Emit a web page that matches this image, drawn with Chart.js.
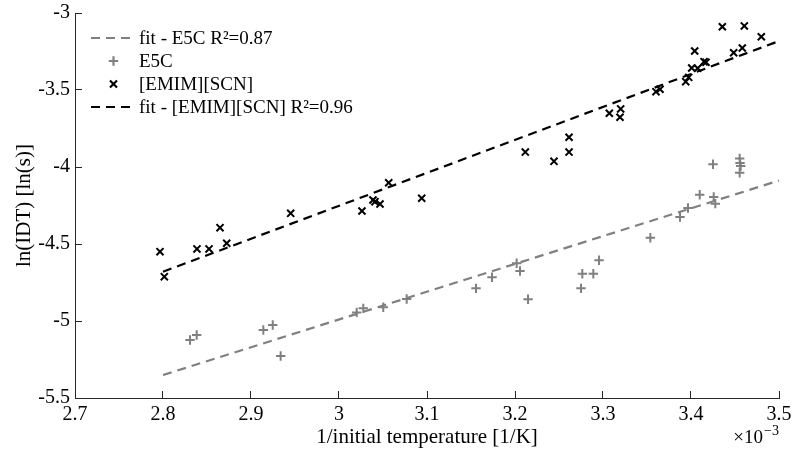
<!DOCTYPE html>
<html>
<head>
<meta charset="utf-8">
<script src="https://cdn.jsdelivr.net/npm/chart.js@4"></script>
<style>
  html, body { margin: 0; padding: 0; background: #fff; }
  #wrap { width: 792px; height: 455px; }
</style>
</head>
<body>
<div id="wrap"><canvas id="chart" width="792" height="455"></canvas></div>
<script>
// x values are 1/T in units of 1e-3 1/K
const e5cX = [2.8307, 2.8383, 2.914, 2.9247, 2.9337, 3.0201, 3.0276, 3.0503, 3.0769, 3.1557,
  3.1739, 3.2019, 3.2057, 3.2148, 3.275, 3.2765, 3.289, 3.2955, 3.3538, 3.3875,
  3.3966, 3.4099, 3.425, 3.4258, 3.4276, 3.4553, 3.4565, 3.4553, 3.4557];
const e5cY = [-5.123, -5.091, -5.058, -5.026, -5.227, -4.944, -4.918, -4.911, -4.857, -4.788,
  -4.716, -4.625, -4.675, -4.859, -4.788, -4.693, -4.693, -4.606, -4.459, -4.325,
  -4.266, -4.18, -3.982, -4.195, -4.238, -3.944, -3.994, -4.037, -3.974];

const emimX = [2.7966, 2.8015, 2.8386, 2.8523, 2.8648, 2.8724, 2.9451, 3.0261, 3.0386, 3.0409,
  3.0466, 3.0565, 3.094, 3.2117, 3.2443, 3.2614, 3.2614, 3.3072, 3.3201, 3.3193,
  3.3602, 3.3648, 3.394, 3.3974, 3.4042, 3.4008, 3.4076, 3.4148, 3.417, 3.4356,
  3.4485, 3.4583, 3.4606, 3.4799];
const emimY = [-4.55, -4.712, -4.532, -4.532, -4.394, -4.495, -4.301, -4.286, -4.214, -4.225,
  -4.24, -4.102, -4.203, -3.903, -3.963, -3.807, -3.903, -3.651, -3.623, -3.677,
  -3.511, -3.495, -3.446, -3.418, -3.247, -3.357, -3.359, -3.316, -3.32, -3.089,
  -3.258, -3.227, -3.084, -3.154];

const fitX = [2.8, 3.5];
const fitE5cY = [-5.351, -4.088];
const fitEmimY = [-4.68, -3.182];

const xTicks = [2.7, 2.8, 2.9, 3.0, 3.1, 3.2, 3.3, 3.4, 3.5];
const yTicks = [-5.5, -5, -4.5, -4, -3.5, -3];

const labels = ['fit - E5C R\u00b2=0.87', 'E5C', '[EMIM][SCN]', 'fit - [EMIM][SCN] R\u00b2=0.96'];

const GRAY = '#808080';
const AXIS = '#262626';
const SERIF = '"Liberation Serif", "Times New Roman", serif';

function pts(xs, ys) {
  return xs.map((x, i) => ({ x: x, y: ys[i] }));
}

// legend drawn inside the plot, top left, no box
const legendPlugin = {
  id: 'innerLegend',
  afterDatasetsDraw(chart) {
    const ctx = chart.ctx;
    const area = chart.chartArea;
    const x0 = area.left + 16;
    const lineW = 45;
    ctx.save();
    ctx.font = '19px ' + SERIF;
    ctx.textBaseline = 'middle';
    chart.data.datasets.forEach((ds, i) => {
      const y = area.top + 25 + i * 23;
      ctx.strokeStyle = ds.borderColor;
      if (ds.showLine) {
        ctx.lineWidth = ds.borderWidth;
        ctx.setLineDash(ds.borderDash);
        ctx.beginPath();
        ctx.moveTo(x0, y);
        ctx.lineTo(x0 + lineW, y);
        ctx.stroke();
        ctx.setLineDash([]);
      } else {
        Chart.helpers.drawPoint(ctx, {
          pointStyle: ds.pointStyle,
          radius: ds.pointRadius,
          borderWidth: ds.borderWidth
        }, x0 + lineW / 2, y);
      }
      ctx.fillStyle = '#000';
      ctx.fillText(ds.label, x0 + lineW + 3, y + 1);
    });
    ctx.restore();
  }
};

const titlesPlugin = {
  id: 'axisTitles',
  afterDraw(chart) {
    const ctx = chart.ctx;
    const area = chart.chartArea;
    ctx.save();
    ctx.fillStyle = '#000';
    ctx.font = '21px ' + SERIF;
    ctx.textAlign = 'center';
    ctx.textBaseline = 'middle';
    ctx.fillText('1/initial temperature [1/K]', (area.left + area.right) / 2, area.bottom + 39);
    ctx.save();
    ctx.translate(24, (area.top + area.bottom) / 2);
    ctx.rotate(-Math.PI / 2);
    ctx.fillText('ln(IDT) [ln(s)]', 0, 0);
    ctx.restore();
    ctx.textAlign = 'right';
    ctx.font = '19px ' + SERIF;
    ctx.fillText('\u00d710', area.right - 16, area.bottom + 40);
    ctx.font = '14px ' + SERIF;
    ctx.fillText('\u22123', area.right, area.bottom + 33);
    ctx.restore();
  }
};

new Chart(document.getElementById('chart'), {
  type: 'scatter',
  data: {
    datasets: [
      {
        label: labels[0],
        data: pts(fitX, fitE5cY),
        showLine: true,
        borderColor: GRAY,
        borderWidth: 2.2,
        borderDash: [9, 6],
        pointRadius: 0
      },
      {
        label: labels[1],
        data: pts(e5cX, e5cY),
        pointStyle: 'cross',
        pointRadius: 4.7,
        borderColor: GRAY,
        borderWidth: 2
      },
      {
        label: labels[2],
        data: pts(emimX, emimY),
        pointStyle: 'crossRot',
        pointRadius: 5,
        borderColor: '#000',
        borderWidth: 2
      },
      {
        label: labels[3],
        data: pts(fitX, fitEmimY),
        showLine: true,
        borderColor: '#000',
        borderWidth: 2.2,
        borderDash: [9, 6],
        pointRadius: 0
      }
    ]
  },
  options: {
    responsive: false,
    animation: false,
    layout: { padding: { top: 13, right: 13, left: 0, bottom: 0 } },
    plugins: {
      legend: { display: false },
      tooltip: { enabled: false }
    },
    scales: {
      x: {
        type: 'linear',
        min: xTicks[0],
        max: xTicks[xTicks.length - 1],
        afterBuildTicks: s => { s.ticks = xTicks.map(v => ({ value: v })); },
        afterFit: s => { s.height = 57; s.paddingLeft = 0; s.paddingRight = 0; },
        grid: { drawOnChartArea: false, tickLength: -7, color: AXIS },
        border: { color: AXIS, width: 1 },
        ticks: {
          padding: 12,
          color: '#000',
          font: { family: SERIF, size: 20 },
          callback: v => String(Number(v.toFixed(1)))
        }
      },
      y: {
        type: 'linear',
        min: yTicks[0],
        max: yTicks[yTicks.length - 1],
        afterBuildTicks: s => { s.ticks = yTicks.map(v => ({ value: v })); },
        afterFit: s => { s.width = 75; s.paddingTop = 0; s.paddingBottom = 0; },
        grid: { drawOnChartArea: false, tickLength: -7, color: AXIS },
        border: { color: AXIS, width: 1 },
        ticks: {
          padding: 12,
          color: '#000',
          font: { family: SERIF, size: 20 },
          callback: v => String(Number(v.toFixed(1)))
        }
      }
    }
  },
  plugins: [legendPlugin, titlesPlugin]
});
</script>
</body>
</html>
